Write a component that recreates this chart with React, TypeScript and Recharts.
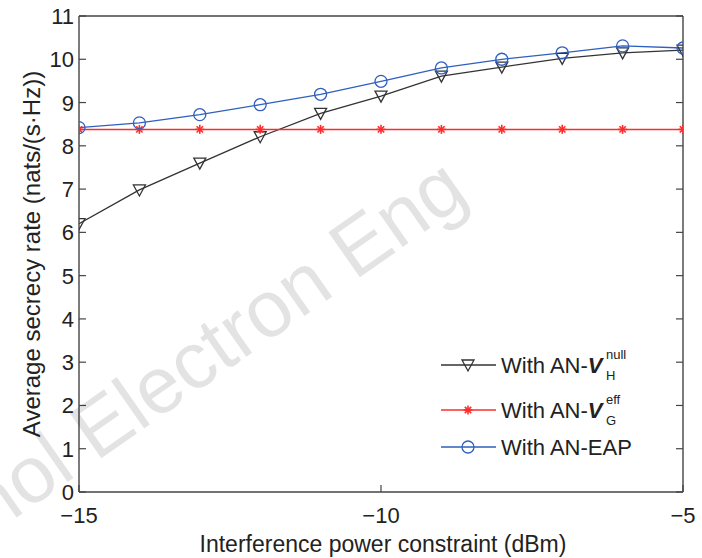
import React from "react";
import { LineChart, Line, XAxis, YAxis, Legend } from "recharts";

const FONT = "'Liberation Sans', Arial, Helvetica, sans-serif";

// interference power constraint (dBm)
const interferencePower = [-15, -14, -13, -12, -11, -10, -9, -8, -7, -6, -5];
// average secrecy rate (nats/(s·Hz))
const rateNullH = [6.2, 6.98, 7.6, 8.21, 8.75, 9.15, 9.61, 9.82, 10.02, 10.15, 10.21];
const rateEffG = [8.38, 8.38, 8.38, 8.38, 8.38, 8.38, 8.38, 8.38, 8.38, 8.38, 8.38];
const rateEap = [8.42, 8.53, 8.72, 8.95, 9.19, 9.49, 9.8, 10.0, 10.15, 10.31, 10.26];

const xTicks = [-15, -10, -5];
const yTicks = [0, 1, 2, 3, 4, 5, 6, 7, 8, 9, 10, 11];

const seriesKeys = ["nullH", "effG", "eap"];
const legendMain = ["With AN-", "With AN-", "With AN-EAP"];
const legendSup = ["null", "eff", ""];
const legendSub = ["H", "G", ""];

const data = interferencePower.map((x, i) => ({
  x,
  nullH: rateNullH[i],
  effG: rateEffG[i],
  eap: rateEap[i],
}));

const AXIS = "#444";
const BLACK = "#333";
const RED = "#ff2b2b";
const BLUE = "#2f5fbf";

const fmt = (v: number) => (v < 0 ? `\u2212${Math.abs(v)}` : `${v}`);

function TriangleDown({ cx, cy, color }: any) {
  return (
    <polygon
      points={`${cx - 6},${cy - 5} ${cx + 6},${cy - 5} ${cx},${cy + 6}`}
      fill="none"
      stroke={color}
      strokeWidth={1.3}
    />
  );
}

function Asterisk({ cx, cy, color }: any) {
  const r = 4.5;
  const d = r * 0.707;
  return (
    <g stroke={color} strokeWidth={1.6}>
      <line x1={cx - r} y1={cy} x2={cx + r} y2={cy} />
      <line x1={cx} y1={cy - r} x2={cx} y2={cy + r} />
      <line x1={cx - d} y1={cy - d} x2={cx + d} y2={cy + d} />
      <line x1={cx - d} y1={cy + d} x2={cx + d} y2={cy - d} />
    </g>
  );
}

function Ring({ cx, cy, color }: any) {
  return <circle cx={cx} cy={cy} r={6} fill="none" stroke={color} strokeWidth={1.3} />;
}

const markers: Record<string, any> = { nullH: TriangleDown, effG: Asterisk, eap: Ring };

function dotFor(key: string, color: string) {
  const Shape = markers[key];
  return (p: any) =>
    p.cx == null ? <g key={`${key}-${p.index}`} /> : <Shape key={`${key}-${p.index}`} cx={p.cx} cy={p.cy} color={color} />;
}

function BottomTick({ x, y, payload }: any) {
  return (
    <g>
      <line x1={x} y1={y} x2={x} y2={y - 7} stroke={AXIS} strokeWidth={1.2} />
      <text x={x} y={y + 31} textAnchor="middle" fontSize={22} fontFamily={FONT} fill="#222">
        {fmt(payload.value)}
      </text>
    </g>
  );
}

function TopTick({ x, y }: any) {
  return <line x1={x} y1={y} x2={x} y2={y + 7} stroke={AXIS} strokeWidth={1.2} />;
}

function LeftTick({ x, y, payload }: any) {
  return (
    <g>
      <line x1={x} y1={y} x2={x + 7} y2={y} stroke={AXIS} strokeWidth={1.2} />
      <text x={x - 5} y={y + 8} textAnchor="end" fontSize={22} fontFamily={FONT} fill="#222">
        {fmt(payload.value)}
      </text>
    </g>
  );
}

function RightTick({ x, y }: any) {
  return <line x1={x} y1={y} x2={x - 7} y2={y} stroke={AXIS} strokeWidth={1.2} />;
}

function YTitle({ viewBox }: any) {
  const cx = 31;
  const cy = viewBox.y + viewBox.height / 2;
  return (
    <text
      x={cx}
      y={cy}
      transform={`rotate(-90 ${cx} ${cy})`}
      textAnchor="middle"
      dominantBaseline="central"
      fontSize={24}
      fontFamily={FONT}
      fill="#222"
    >
      Average secrecy rate (nats/(s·Hz))
    </text>
  );
}

function XTitle({ viewBox }: any) {
  return (
    <text
      x={viewBox.x + viewBox.width / 2 + 2}
      y={viewBox.y + 60}
      textAnchor="middle"
      fontSize={23}
      fontFamily={FONT}
      fill="#222"
    >
      Interference power constraint (dBm)
    </text>
  );
}

const rowCenters = [25, 70, 107];

function LegendBox({ payload }: any) {
  const entries = (payload || []).filter((e: any) => markers[e.dataKey]);
  return (
    <svg width={262} height={122} style={{ display: "block" }}>
      {entries.map((e: any) => {
        const i = seriesKeys.indexOf(e.dataKey);
        const cy = rowCenters[i];
        const Shape = markers[e.dataKey];
        const hasV = legendSup[i] !== "";
        return (
          <g key={e.dataKey}>
            <line x1={3} y1={cy} x2={58} y2={cy} stroke={e.color} strokeWidth={1.3} />
            <Shape cx={30} cy={cy} color={e.color} />
            <text x={63} y={cy + 8} fontSize={22} fontFamily={FONT} fill="#222">
              {legendMain[i]}
              {hasV && (
                <tspan fontWeight="bold" fontStyle="italic">
                  V
                </tspan>
              )}
            </text>
            {hasV && (
              <>
                <text x={168} y={cy - 6} fontSize={13} fontFamily={FONT} fill="#222">
                  {legendSup[i]}
                </text>
                <text x={168} y={cy + 15} fontSize={13} fontFamily={FONT} fill="#222">
                  {legendSub[i]}
                </text>
              </>
            )}
          </g>
        );
      })}
    </svg>
  );
}

function Watermark() {
  const ax = 96;
  const ay = 462;
  return (
    <svg
      width={702}
      height={558}
      style={{ position: "absolute", left: 0, top: 0, pointerEvents: "none" }}
    >
      <g transform={`rotate(-35 ${ax} ${ay})`} fontSize={80} fontFamily={FONT} fill="rgba(0,0,0,0.11)">
        <text x={ax} y={ay} textAnchor="end">
          Front Inform Technol{"\u00a0"}
        </text>
        <text x={ax} y={ay} textAnchor="start">
          Electron Eng
        </text>
      </g>
    </svg>
  );
}

export default function App() {
  return (
    <div style={{ position: "absolute", left: 0, top: 0, width: 702, height: 558, background: "#fff" }}>
      <LineChart width={702} height={558} data={data} margin={{ top: 15, right: 18, bottom: 0, left: 0 }}>
        <XAxis
          dataKey="x"
          type="number"
          domain={[-15, -5]}
          ticks={xTicks}
          allowDataOverflow
          height={66}
          tickSize={0}
          tickMargin={0}
          axisLine={{ stroke: AXIS, strokeWidth: 1.4 }}
          tick={<BottomTick />}
          label={<XTitle />}
        />
        <XAxis
          xAxisId="top"
          orientation="top"
          type="number"
          domain={[-15, -5]}
          ticks={xTicks}
          allowDataOverflow
          height={1}
          tickSize={0}
          tickMargin={0}
          axisLine={{ stroke: AXIS, strokeWidth: 1.4 }}
          tick={<TopTick />}
        />
        <YAxis
          type="number"
          domain={[0, 11]}
          ticks={yTicks}
          allowDataOverflow
          width={79}
          tickSize={0}
          tickMargin={0}
          axisLine={{ stroke: AXIS, strokeWidth: 1.4 }}
          tick={<LeftTick />}
          label={<YTitle />}
        />
        <YAxis
          yAxisId="right"
          orientation="right"
          type="number"
          domain={[0, 11]}
          ticks={yTicks}
          allowDataOverflow
          width={1}
          tickSize={0}
          tickMargin={0}
          axisLine={{ stroke: AXIS, strokeWidth: 1.4 }}
          tick={<RightTick />}
        />
        <Line
          dataKey="nullH"
          stroke={BLACK}
          strokeWidth={1.3}
          dot={dotFor("nullH", BLACK)}
          activeDot={false}
          isAnimationActive={false}
        />
        <Line
          dataKey="effG"
          stroke={RED}
          strokeWidth={1.5}
          dot={dotFor("effG", RED)}
          activeDot={false}
          isAnimationActive={false}
        />
        <Line
          dataKey="eap"
          stroke={BLUE}
          strokeWidth={1.3}
          dot={dotFor("eap", BLUE)}
          activeDot={false}
          isAnimationActive={false}
        />
        <Legend
          layout="horizontal"
          verticalAlign="middle"
          align="center"
          content={<LegendBox />}
          wrapperStyle={{ left: 438, top: 340, width: 262, height: 122 }}
        />
      </LineChart>
      <Watermark />
    </div>
  );
}
